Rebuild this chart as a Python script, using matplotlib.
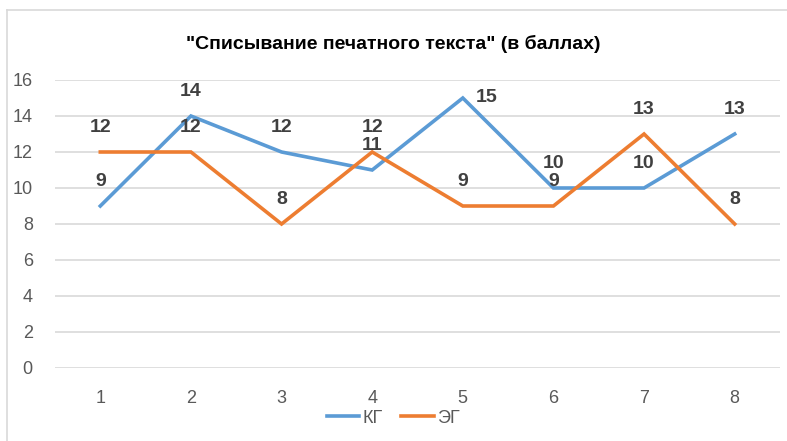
import matplotlib.pyplot as plt
from matplotlib.lines import Line2D

# данные
categories = ['1', '2', '3', '4', '5', '6', '7', '8']
kg = [9, 14, 12, 11, 15, 10, 10, 13]
eg = [12, 12, 8, 12, 9, 9, 13, 8]
title = '"Списывание печатного текста" (в баллах)'

blue = '#5B9BD5'
orange = '#ED7D31'

plt.rcParams['font.family'] = ['Liberation Sans', 'DejaVu Sans']

fig = plt.figure(figsize=(7.87, 4.41), dpi=100)
ax = fig.add_axes([55 / 787, (441 - 368) / 441, 725 / 787, 288 / 441])

x = list(range(1, len(categories) + 1))
ax.plot(x, kg, color=blue, lw=2.6, solid_joinstyle='miter', label='КГ', zorder=3)
ax.plot(x, eg, color=orange, lw=2.6, solid_joinstyle='miter', label='ЭГ', zorder=3)

# подписи значений
for i, v in enumerate(kg):
    if i == 4:
        ax.annotate(str(v), (x[i], v), xytext=(9, 0), textcoords='offset points',
                    ha='left', va='center', fontsize=14, fontweight='bold', color='#404040')
    else:
        ax.annotate(str(v), (x[i], v), xytext=(0, 18), textcoords='offset points',
                    ha='center', va='center', fontsize=14, fontweight='bold', color='#404040')
for i, v in enumerate(eg):
    ax.annotate(str(v), (x[i], v), xytext=(0, 18), textcoords='offset points',
                ha='center', va='center', fontsize=14, fontweight='bold', color='#404040')

ax.set_xlim(0.5, 8.5)
ax.set_ylim(0, 16)
ax.set_yticks(range(0, 17, 2))
ax.set_xticks(x)
ax.set_xticklabels(categories)
ax.grid(axis='y', color='#D9D9D9', lw=1.2)
ax.set_axisbelow(True)
for s in ax.spines.values():
    s.set_visible(False)
ax.tick_params(length=0, labelsize=13, colors='#595959')
ax.tick_params(axis='y', pad=16)
ax.tick_params(axis='x', pad=16)

fig.text(0.5, 0.900, title, ha='center', va='center', fontsize=14, fontweight='bold', color='black')

handles = [Line2D([], [], color=blue, lw=2.6), Line2D([], [], color=orange, lw=2.6)]
fig.legend(handles, ['КГ', 'ЭГ'], loc='center', bbox_to_anchor=(0.5, 0.052), ncol=2,
           frameon=False, fontsize=13, labelcolor='#595959', handlelength=1.8,
           handletextpad=0.2, columnspacing=1.0)

# рамка диаграммы
fig.add_artist(Line2D([7 / 787, 7 / 787], [0, 1 - 10 / 441], color='#D9D9D9', lw=1.2))
fig.add_artist(Line2D([7 / 787, 1], [1 - 10 / 441, 1 - 10 / 441], color='#D9D9D9', lw=1.2))

fig.savefig('out.png', dpi=100)
